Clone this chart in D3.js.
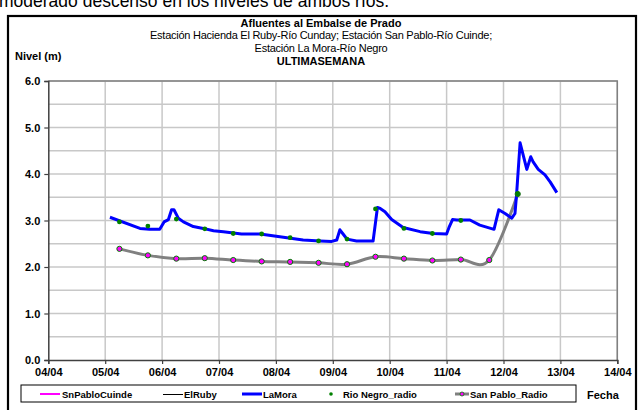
<!DOCTYPE html>
<html><head><meta charset="utf-8">
<script src="https://cdn.jsdelivr.net/npm/d3@7"></script>
<style>
html,body{margin:0;padding:0;background:#fff;overflow:hidden;}
text{font-family:Arial,"Liberation Sans",sans-serif;}
</style></head>
<body>
<svg id="c" width="643" height="410"></svg>
<script>
// ---- data ----
const laMoraTimes = ["05 02:00","05 14:40","05 18:40","05 23:00","06 00:50","06 02:40","06 04:00","06 05:00","06 06:50","06 09:00","06 13:10","06 17:20","06 21:40","07 01:50","07 09:30","07 17:20","08 03:10","08 11:30","08 18:40","08 23:30","09 01:40","09 03:00","09 04:20","09 06:00","09 10:00","09 17:00","09 18:50","09 20:00","09 22:00","10 00:50","10 05:40","10 12:50","10 18:20","11 00:00","11 01:10","11 02:30","11 04:20","11 09:50","11 14:00","11 20:00","11 22:00","12 00:40","12 03:30","12 04:50","12 05:30","12 07:00","12 09:50","12 11:30","12 12:30","12 14:40","12 17:30","12 19:40","12 22:30"];
const laMoraValues = [3.07,2.83,2.81,2.81,2.97,3.02,3.23,3.23,3.05,2.97,2.87,2.83,2.78,2.76,2.71,2.71,2.64,2.58,2.56,2.55,2.58,2.80,2.71,2.60,2.56,2.56,3.28,3.26,3.19,3.02,2.85,2.76,2.72,2.71,2.87,3.02,3.01,3.01,2.90,2.81,3.23,3.15,3.05,3.15,3.55,4.67,4.10,4.37,4.26,4.10,3.98,3.83,3.60];
const radioTimes = ["05 06:00","05 18:00","06 06:00","06 18:00","07 06:00","07 18:00","08 06:00","08 18:00","09 06:00","09 18:00","10 06:00","10 18:00","11 06:00","11 18:00","12 06:00"];
const rioNegroRadio = [2.97,2.88,3.03,2.82,2.72,2.71,2.63,2.56,2.60,3.25,2.83,2.72,3.00,null,3.57];
const sanPabloRadio = [2.39,2.25,2.18,2.19,2.15,2.12,2.11,2.09,2.06,2.22,2.18,2.14,2.16,2.15,3.57];
const xTickLabels = ["04/04","05/04","06/04","07/04","08/04","09/04","10/04","11/04","12/04","13/04","14/04"];
const yTickValues = [0,1,2,3,4,5,6];
const legendNames = ["SnPabloCuinde","ElRuby","LaMora","Rio Negro_radio","San Pablo_Radio"];
const titleLines = ["Afluentes al Embalse de Prado","Estación Hacienda El Ruby-Río Cunday; Estación San Pablo-Río Cuinde;","Estación La Mora-Río Negro","ULTIMASEMANA"];

// ---- helpers ----
const parseT = s => new Date(Date.UTC(2024,3,+s.slice(0,2),+s.slice(3,5),+s.slice(6,8)));
const svg = d3.select("#c");
const x = d3.scaleUtc().domain([new Date(Date.UTC(2024,3,4)), new Date(Date.UTC(2024,3,14))]).range([48.3,617.3]);
const y = d3.scaleLinear().domain([0,6]).range([360,81]);

// cut text from page above
svg.append("text").attr("x",-1).attr("y",7).attr("font-size",17.5).attr("fill","#000")
  .text("moderado descenso en los niveles de ambos ríos.");

// outer frame
svg.append("rect").attr("x",8).attr("y",16).attr("width",628).attr("height",420)
  .attr("fill","none").attr("stroke","#000").attr("stroke-width",2.2);

// titles
const tY=[27,39,52,65];
titleLines.forEach((t,i)=>{
  svg.append("text").attr("x",321).attr("y",tY[i]).attr("text-anchor","middle")
    .attr("font-size",11).attr("font-weight",(i===0||i===3)?"bold":"normal")
    .attr("letter-spacing",(i===1||i===2)?-0.25:0).text(t);
});
svg.append("text").attr("x",15).attr("y",60).attr("font-size",11).attr("font-weight","bold").text("Nivel (m)");

// gridlines
const days = d3.utcDay.range(x.domain()[0], d3.utcDay.offset(x.domain()[1],1));
svg.append("g").selectAll("line").data(d3.range(0.5,6.01,0.5)).join("line")
  .attr("x1",48.3).attr("x2",617.3).attr("y1",d=>y(d)).attr("y2",d=>y(d))
  .attr("stroke","#c8c8c8").attr("stroke-width",1.5);
svg.append("g").selectAll("line").data(days.slice(1)).join("line")
  .attr("x1",d=>x(d)).attr("x2",d=>x(d)).attr("y1",81).attr("y2",360)
  .attr("stroke","#c8c8c8").attr("stroke-width",1.5);
// plot border top/right
svg.append("path").attr("d",`M48.3,81H617.3V360`).attr("fill","none").attr("stroke","#808080").attr("stroke-width",1.5);

// axes
const xAxis = d3.axisBottom(x).tickValues(days).tickSize(4).tickFormat((d,i)=>xTickLabels[i]);
const gx = svg.append("g").attr("transform","translate(0,360)").call(xAxis);
gx.select(".domain").attr("stroke","#404040").attr("stroke-width",1.5);
gx.selectAll(".tick line").attr("stroke","#404040").attr("stroke-width",1.2);
gx.selectAll("text").attr("font-size",11).attr("font-weight","bold").attr("fill","#000")
  .attr("font-family","Arial,'Liberation Sans',sans-serif").attr("dy","0.71em").attr("y",8);
const yAxis = d3.axisLeft(y).tickValues(yTickValues).tickSize(4).tickFormat(d3.format(".1f"));
const gy = svg.append("g").attr("transform","translate(48.3,0)").call(yAxis);
gy.select(".domain").attr("stroke","#404040").attr("stroke-width",1.5);
gy.selectAll(".tick line").attr("stroke","#404040").attr("stroke-width",1.2);
gy.selectAll("text").attr("font-size",11).attr("font-weight","bold").attr("fill","#000")
  .attr("font-family","Arial,'Liberation Sans',sans-serif").attr("x",-8);

// San Pablo radio line (smoothed)
const sp = radioTimes.map((t,i)=>({t:parseT(t),v:sanPabloRadio[i]})).filter(d=>d.v!=null);
svg.append("path").datum(sp).attr("fill","none").attr("stroke","#808080").attr("stroke-width",3)
  .attr("d",d3.line().x(d=>x(d.t)).y(d=>y(d.v)).curve(d3.curveCatmullRom.alpha(0)));

// La Mora
const lm = laMoraTimes.map((t,i)=>({t:parseT(t),v:laMoraValues[i]}));
svg.append("path").datum(lm).attr("fill","none").attr("stroke","#0000ff").attr("stroke-width",3)
  .attr("stroke-linejoin","round")
  .attr("d",d3.line().x(d=>x(d.t)).y(d=>y(d.v)));

// San Pablo markers
svg.append("g").selectAll("circle").data(sp).join("circle")
  .attr("cx",d=>x(d.t)).attr("cy",d=>y(d.v)).attr("r",2.6)
  .attr("fill","#ff00ff").attr("stroke","#008000").attr("stroke-width",1);
// Rio Negro markers
const rn = radioTimes.map((t,i)=>({t:parseT(t),v:rioNegroRadio[i]})).filter(d=>d.v!=null);
svg.append("g").selectAll("circle").data(rn).join("circle")
  .attr("cx",d=>x(d.t)).attr("cy",d=>y(d.v)).attr("r",2.4).attr("fill","#008000");

// legend
svg.append("rect").attr("x",21).attr("y",385).attr("width",555).attr("height",17)
  .attr("fill","#fff").attr("stroke","#000").attr("stroke-width",1);
const lg = svg.append("g").attr("font-size",9.5).attr("font-weight","bold");
const lx = [40,163,242,331,455];
const ly = 394;
lg.append("line").attr("x1",lx[0]).attr("x2",lx[0]+20).attr("y1",ly).attr("y2",ly).attr("stroke","#ff00ff").attr("stroke-width",2);
lg.append("line").attr("x1",lx[1]).attr("x2",lx[1]+20).attr("y1",ly+0.5).attr("y2",ly+0.5).attr("stroke","#000").attr("stroke-width",1.2).attr("shape-rendering","crispEdges");
lg.append("line").attr("x1",lx[2]).attr("x2",lx[2]+20).attr("y1",ly).attr("y2",ly).attr("stroke","#0000ff").attr("stroke-width",3);
lg.append("circle").attr("cx",lx[3]).attr("cy",ly).attr("r",1.8).attr("fill","#008000");
lg.append("line").attr("x1",lx[4]).attr("x2",lx[4]+14).attr("y1",ly).attr("y2",ly).attr("stroke","#808080").attr("stroke-width",3);
lg.append("circle").attr("cx",lx[4]+7).attr("cy",ly).attr("r",2).attr("fill","#ff00ff").attr("stroke","#008000").attr("stroke-width",0.8);
const tx = [62,184,263,343,470];
legendNames.forEach((n,i)=>lg.append("text").attr("x",tx[i]).attr("y",ly+3.5).text(n));

svg.append("text").attr("x",587).attr("y",399).attr("font-size",11).attr("font-weight","bold").text("Fecha");
</script>
</body></html>
